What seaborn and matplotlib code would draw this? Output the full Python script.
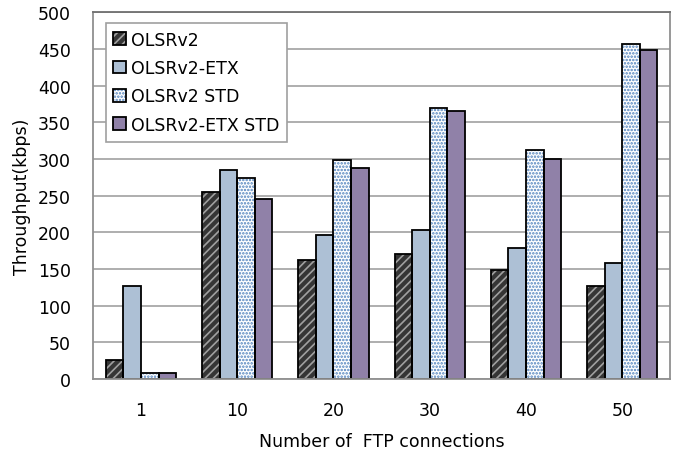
import pandas as pd
import matplotlib
matplotlib.use('Agg')
import matplotlib.pyplot as plt
import seaborn as sns
from matplotlib.legend_handler import HandlerTuple

# Data
connections = ['1', '10', '20', '30', '40', '50']
protocols = ['OLSRv2', 'OLSRv2-ETX', 'OLSRv2 STD', 'OLSRv2-ETX STD']
olsrv2 = [26, 255, 162, 171, 148, 127]
olsrv2_etx = [127, 285, 197, 203, 179, 158]
olsrv2_std = [9, 274, 298, 370, 312, 456]
olsrv2_etx_std = [8, 245, 288, 365, 300, 448]

rows = []
for name, vals in zip(protocols, [olsrv2, olsrv2_etx, olsrv2_std, olsrv2_etx_std]):
    for c, v in zip(connections, vals):
        rows.append({'Connections': c, 'Protocol': name, 'Throughput': v})
df = pd.DataFrame(rows)

sns.set_style('white')
plt.rcParams['font.family'] = ['DejaVu Sans']
plt.rcParams['text.color'] = 'black'
plt.rcParams['axes.labelcolor'] = 'black'
plt.rcParams['xtick.color'] = 'black'
plt.rcParams['ytick.color'] = 'black'
plt.rcParams['hatch.linewidth'] = 1.2

face = ['#353535', '#a6c0dc', '#ffffff', '#8e7aae']
hatch_col = ['#a0a0a0', '#a6c0dc', '#4f81bd', '#8e7aae']
hatches = ['////', '', '.....', '']

fig = plt.figure(figsize=(6.73, 4.52), dpi=100)
ax = fig.add_axes([0.138, 0.159, 0.858, 0.812])

# first pass: fill + hatch (hatch takes the edge colour)
sns.barplot(data=df, x='Connections', y='Throughput', hue='Protocol',
            hue_order=protocols, order=connections, width=0.73,
            palette=face, ax=ax, legend=False, errorbar=None)
for i, cont in enumerate(ax.containers):
    for p in cont:
        p.set_hatch(hatches[i])
        p.set_edgecolor(hatch_col[i])
        p.set_linewidth(0)
n_fill = len(ax.containers)

# second pass: black outlines only
sns.barplot(data=df, x='Connections', y='Throughput', hue='Protocol',
            hue_order=protocols, order=connections, width=0.73,
            palette=face, ax=ax, legend=False, errorbar=None,
            fill=False)
for cont in ax.containers[n_fill:]:
    for p in cont:
        p.set_edgecolor('black')
        p.set_linewidth(1.3)
        p.set_facecolor('none')

ax.set_ylim(0, 500)
ax.set_yticks(range(0, 501, 50))
ax.yaxis.grid(True, color='#a8a8a8', linewidth=1.3)
ax.set_axisbelow(True)
for s in ax.spines.values():
    s.set_color('#909090')
    s.set_linewidth(1.3)
ax.spines['top'].set_color('#707070')
ax.tick_params(axis='y', length=6, color='#909090', labelcolor='black', width=1.3, labelsize=12.5, pad=10)
ax.tick_params(axis='x', length=0, labelcolor='black', labelsize=12.5, pad=16)
ax.set_xlabel('Number of  FTP connections', fontsize=12.5, labelpad=9, color='black')
ax.set_ylabel('Throughput(kbps)', fontsize=12.5, labelpad=5, color='black')

# legend with hatched patches + black outline
handles = []
for i in range(4):
    h1 = ax.containers[i].patches[0]
    h2 = ax.containers[n_fill + i].patches[0]
    handles.append((h1, h2))
leg = ax.legend(handles, protocols, handler_map={tuple: HandlerTuple(ndivide=1, pad=0)},
                loc='upper left', bbox_to_anchor=(0.013, 0.985), fontsize=12.5,
                frameon=True, fancybox=False, framealpha=1, edgecolor='#a0a0a0',
                handlelength=0.75, handleheight=0.75, handletextpad=0.25,
                labelspacing=0.6, borderpad=0.45, borderaxespad=0.3)
leg.get_frame().set_linewidth(1.2)
for t in leg.get_texts():
    t.set_color('black')

fig.savefig('out.png', dpi=100)
